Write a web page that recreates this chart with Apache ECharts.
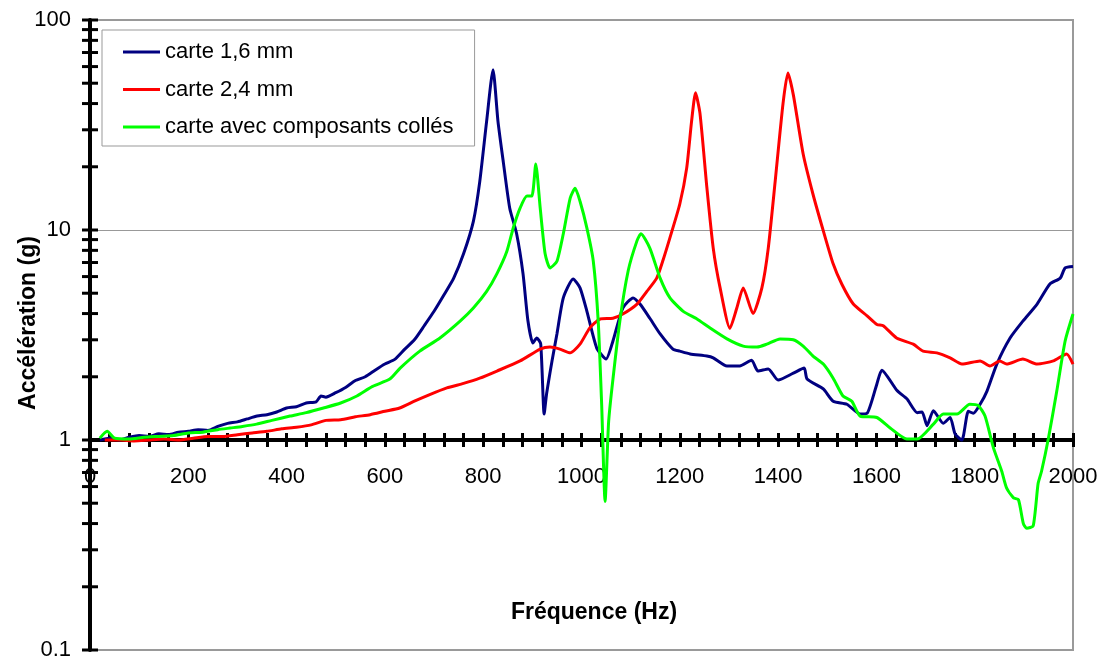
<!DOCTYPE html>
<html><head><meta charset="utf-8">
<script src="https://cdn.jsdelivr.net/npm/echarts@6/dist/echarts.min.js"></script>
<style>html,body{margin:0;padding:0;background:#fff}#c{width:1104px;height:659px}</style>
</head><body><div id="c"></div>
<script>
const FONT = '"Liberation Sans", Arial, Helvetica, sans-serif';
const seriesNames = ['carte 1,6 mm', 'carte 2,4 mm', 'carte avec composants collés'];
const seriesColors = ['#000080', '#ff0000', '#00ff00'];

const blueFreq = [20,40,60,80,100,120,140,160,180,200,220,240,260,280,300,320,340,360,380,400,420,440,460,470,480,500,520,540,560,580,600,620,640,660,680,700,720,740,760,780,793,807,820,830,841,854,868,881,891,901,909,917,924,929,940,950,963,983,997,1011,1031,1050,1064,1084,1105,1119,1139,1160,1186,1200,1221,1255,1268,1296,1322,1346,1359,1380,1400,1431,1453,1459,1492,1512,1540,1567,1581,1601,1611,1642,1662,1683,1693,1703,1716,1736,1750,1760,1774,1787,1797,1811,1825,1845,1872,1898,1927,1953,1974,1984,2000];
const blueVal = [1.0,1.02,1.0,1.03,1.05,1.04,1.07,1.06,1.09,1.1,1.12,1.11,1.16,1.2,1.22,1.26,1.3,1.32,1.36,1.42,1.44,1.5,1.52,1.62,1.6,1.68,1.78,1.92,2.0,2.15,2.3,2.42,2.7,3.0,3.5,4.1,4.9,5.9,7.7,11.0,17,33,58,33,21,12.7,9.6,6.2,3.7,2.9,3.06,2.87,1.33,1.66,2.38,3.2,4.75,5.84,5.3,4.1,2.74,2.43,2.96,4.25,4.75,4.44,3.8,3.2,2.71,2.65,2.57,2.51,2.46,2.25,2.25,2.4,2.13,2.18,1.93,2.08,2.2,1.95,1.75,1.53,1.48,1.33,1.34,1.85,2.15,1.72,1.57,1.35,1.36,1.17,1.38,1.2,1.28,1.07,1.0,1.37,1.34,1.48,1.71,2.3,3.06,3.68,4.44,5.53,5.9,6.6,6.7];

const redFreq = [30,60,90,120,150,180,210,240,270,300,330,360,390,420,450,480,510,540,570,600,630,660,690,726,760,793,828,875,916,936,956,977,997,1017,1038,1064,1084,1113,1133,1153,1166,1180,1200,1214,1224,1232,1241,1255,1268,1282,1302,1316,1329,1349,1367,1380,1394,1410,1420,1431,1451,1471,1492,1512,1530,1553,1581,1601,1614,1641,1675,1695,1723,1750,1774,1811,1831,1851,1865,1898,1927,1960,1987,2000];
const redVal = [1.0,1.0,0.99,1.0,1.01,1.0,1.02,1.04,1.04,1.06,1.08,1.1,1.13,1.15,1.18,1.24,1.25,1.29,1.32,1.37,1.42,1.53,1.64,1.77,1.86,1.97,2.13,2.38,2.71,2.77,2.71,2.6,2.86,3.42,3.77,3.8,3.98,4.44,5.1,5.9,7.2,9.2,13.3,19.7,33,45,36,16,8.2,5.3,3.4,4.25,5.3,4.0,5.3,8.2,17,40,56,44,23,14.8,9.9,6.9,5.5,4.44,3.9,3.55,3.5,3.06,2.86,2.65,2.6,2.46,2.3,2.38,2.25,2.38,2.3,2.43,2.3,2.38,2.57,2.3];

const greenFreq = [20,35,50,80,110,140,170,200,230,260,285,310,339,370,407,440,475,510,543,575,610,631,671,712,753,780,807,828,848,861,875,889,899,907,916,926,936,950,963,977,987,997,1011,1024,1034,1041,1048,1055,1062,1078,1095,1113,1121,1139,1160,1180,1207,1235,1261,1296,1329,1357,1377,1404,1431,1451,1471,1492,1512,1532,1550,1567,1601,1628,1662,1683,1716,1736,1764,1790,1807,1821,1838,1855,1865,1879,1889,1899,1906,1919,1929,1936,1950,1967,1984,2000];
const greenVal = [1.02,1.1,1.02,1.01,1.03,1.04,1.05,1.08,1.09,1.12,1.14,1.16,1.19,1.24,1.3,1.35,1.42,1.5,1.62,1.8,1.95,2.2,2.65,3.06,3.68,4.25,5.1,6.2,7.9,10.2,12.7,14.5,14.5,20.6,12.7,7.7,6.6,7.1,9.6,14.2,15.8,13.7,10.2,7.1,3.68,1.48,0.51,1.2,1.77,3.68,6.4,8.9,9.6,8.2,5.9,4.75,4.1,3.77,3.42,3.03,2.8,2.77,2.86,3.03,3.0,2.8,2.51,2.3,1.97,1.62,1.53,1.3,1.28,1.14,1.01,1.01,1.19,1.33,1.33,1.48,1.46,1.3,0.92,0.71,0.59,0.53,0.52,0.40,0.38,0.39,0.62,0.71,1.02,1.71,2.96,3.98];

const xMin = 0, xMax = 2000, xTickStep = 40, xLabelStep = 200;
const yMin = 0.1, yMax = 100;
const yTickValues = [0.1,0.2,0.3,0.4,0.5,0.6,0.7,0.8,0.9,1,2,3,4,5,6,7,8,9,10,20,30,40,50,60,70,80,90,100];
const yTitle = 'Accélération (g)';
const xTitle = 'Fréquence (Hz)';

function pairs(f, v) { return f.map((x, i) => [x, v[i]]); }
const seriesData = [pairs(blueFreq, blueVal), pairs(redFreq, redVal), pairs(greenFreq, greenVal)];

const chart = echarts.init(document.getElementById('c'), null, {renderer: 'canvas'});

const lineSeries = seriesNames.map((name, i) => ({
  name: name, type: 'line', xAxisIndex: 0, yAxisIndex: 0,
  data: seriesData[i], symbol: 'none', showSymbol: false, smooth: 0.2,
  lineStyle: {color: seriesColors[i], width: 3}, itemStyle: {color: seriesColors[i]},
  z: 3, animation: false
}));

const option = {
  animation: false,
  backgroundColor: '#fff',
  grid: [
    {left: 90, right: 31, top: 20, bottom: 9, show: true, borderColor: '#9a9a9a', borderWidth: 2, backgroundColor: 'transparent', containLabel: false, outerBoundsMode: 'none'},
    {left: 90, right: 31, top: 20, height: 420, containLabel: false, outerBoundsMode: 'none'},
    {left: 90, right: 31, top: 440, height: 210, containLabel: false, outerBoundsMode: 'none'}
  ],
  xAxis: [
    {gridIndex: 0, type: 'value', min: xMin, max: xMax, show: false},
    {gridIndex: 1, type: 'value', min: xMin, max: xMax, interval: xTickStep, position: 'bottom',
     axisLine: {show: true, onZero: false, lineStyle: {color: '#000', width: 4}},
     axisTick: {show: true, inside: false, length: 7, lineStyle: {color: '#000', width: 3}},
     axisLabel: {show: true, margin: 26, fontSize: 22, color: '#000', fontFamily: FONT,
       formatter: v => (v % xLabelStep === 0 ? String(v) : '')},
     splitLine: {show: false}},
    {gridIndex: 2, type: 'value', min: xMin, max: xMax, interval: xTickStep, position: 'top',
     axisLine: {show: false, onZero: false},
     axisTick: {show: true, inside: false, length: 7, lineStyle: {color: '#000', width: 3}},
     axisLabel: {show: false}, splitLine: {show: false}}
  ],
  yAxis: [
    {gridIndex: 0, type: 'log', logBase: 10, min: yMin, max: yMax,
     axisLine: {show: true, onZero: false, lineStyle: {color: '#000', width: 4}},
     axisTick: {show: false}, minorTick: {show: false},
     axisLabel: {margin: 19, fontSize: 22, color: '#000', fontFamily: FONT},
     splitLine: {show: true, lineStyle: {color: '#999', width: 1}}},
    {gridIndex: 1, type: 'value', min: 0, max: 1, show: false},
    {gridIndex: 2, type: 'value', min: 0, max: 1, show: false}
  ],
  legend: {
    data: seriesNames, orient: 'vertical', left: 102, top: 30,
    padding: [11, 21, 8, 21], itemGap: 15.5, itemWidth: 37, itemHeight: 3, icon: 'rect',
    backgroundColor: '#fff', borderColor: '#999', borderWidth: 1, borderRadius: 0,
    textStyle: {fontSize: 22, color: '#000', fontFamily: FONT}, selectedMode: false
  },
  graphic: [
    {type: 'text', x: 29, y: 323, rotation: Math.PI / 2,
     style: {text: yTitle, align: 'center', verticalAlign: 'middle', textAlign: 'center', textVerticalAlign: 'middle', font: 'bold 23px ' + FONT, fill: '#000'}},
    {type: 'text', x: 594, y: 613,
     style: {text: xTitle, align: 'center', verticalAlign: 'middle', textAlign: 'center', textVerticalAlign: 'middle', font: 'bold 23px ' + FONT, fill: '#000'}}
  ],
  series: lineSeries.concat([{
    type: 'custom', xAxisIndex: 0, yAxisIndex: 0, silent: true, z: 6,
    data: yTickValues.map(v => [xMin, v]), encode: {x: 0, y: 1},
    renderItem: (params, api) => {
      const p = api.coord([api.value(0), api.value(1)]);
      return {type: 'line', shape: {x1: p[0] - 8, y1: p[1], x2: p[0] + 8, y2: p[1]}, style: {stroke: '#000', lineWidth: 3}};
    }
  }])
};
chart.setOption(option);
</script></body></html>
